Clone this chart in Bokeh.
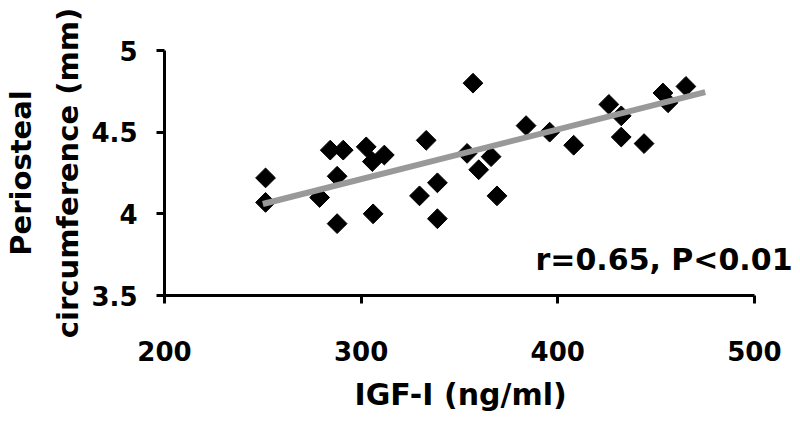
import math
from bokeh.plotting import figure
from bokeh.models import FixedTicker, Label, Title
from bokeh.embed import file_html
from bokeh.resources import INLINE

# ---- data ----
igf = [251.4, 251.4, 278.9, 284.3, 290.9, 287.8, 287.8, 302.6, 305.7, 311.8,
       306.1, 333.1, 329.7, 338.8, 338.8, 356.9, 353.9, 359.8, 366.1, 369.1,
       383.9, 395.9, 408.1, 426.0, 432.3, 432.3, 443.9, 453.5, 456.1, 465.2]
perio = [4.22, 4.07, 4.10, 4.39, 4.39, 4.23, 3.94, 4.41, 4.32, 4.36,
         4.00, 4.45, 4.11, 4.19, 3.97, 4.80, 4.37, 4.27, 4.35, 4.11,
         4.54, 4.50, 4.42, 4.67, 4.60, 4.47, 4.43, 4.74, 4.68, 4.78]
fit_x = [250, 475]
fit_y = [4.06, 4.745]
x_ticks = [200, 300, 400, 500]
y_ticks = [3.5, 4.0, 4.5, 5.0]
y_tick_labels = ["3.5", "4", "4.5", "5"]
x_label = "IGF-I (ng/ml)"
y_label = "Periosteal\ncircumference (mm)"
stat_text = "r=0.65, P<0.01"

FONT = "DejaVu Sans"

p = figure(width=792, height=422, output_backend="svg", toolbar_location=None,
           x_range=(200, 519.4), y_range=(3.5, 5.0),
           min_border_left=164, min_border_right=0,
           min_border_top=50, min_border_bottom=126)
p.grid.visible = False
p.outline_line_color = None
p.background_fill_color = "white"
p.border_fill_color = "white"

p.xaxis.ticker = FixedTicker(ticks=x_ticks)
p.xaxis.bounds = (x_ticks[0], x_ticks[-1])
p.yaxis.ticker = FixedTicker(ticks=y_ticks)
p.yaxis.major_label_overrides = {t: s for t, s in zip(y_ticks, y_tick_labels)}

for ax in (p.xaxis, p.yaxis):
    ax.axis_line_width = 3
    ax.axis_line_color = "black"
    ax.major_tick_line_width = 3
    ax.major_tick_line_color = "black"
    ax.major_tick_out = 8
    ax.major_tick_in = 0
    ax.minor_tick_line_color = None
    ax.major_label_text_font = FONT
    ax.major_label_text_font_style = "bold"
    ax.major_label_text_font_size = "26px"
    ax.major_label_text_color = "black"
    ax.axis_label_text_font = FONT
    ax.axis_label_text_font_style = "bold"
    ax.axis_label_text_color = "black"

p.xaxis.major_label_standoff = 37
p.yaxis.major_label_standoff = 19
p.yaxis.axis_label = y_label
p.yaxis.axis_label_text_font_size = "29px"
p.yaxis.axis_label_text_line_height = 1.4
p.yaxis.axis_label_standoff = 3

# x-axis title, centred under the axis (200..500) rather than the wider frame
p.add_layout(Title(text=x_label, align="left", offset=190, standoff=22,
                   text_font=FONT, text_font_style="bold",
                   text_font_size="30px", text_color="black"), "below")

p.scatter(igf, perio, marker="square", angle=math.pi / 4, size=14,
          fill_color="black", line_color="black")
p.line(fit_x, fit_y, line_width=6, line_color="#999999")

p.add_layout(Label(x=628, y=36, x_units="screen", y_units="screen",
                   text=stat_text, text_align="right", text_baseline="alphabetic",
                   text_font=FONT, text_font_style="bold",
                   text_font_size="30px", text_color="black"))

open("out.html", "w").write(file_html(p, INLINE))
